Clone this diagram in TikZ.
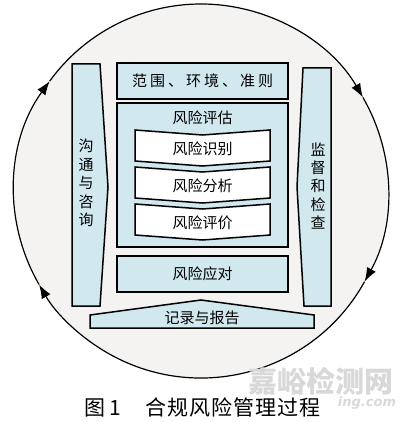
\documentclass[tikz,border=0pt]{standalone}
\usepackage{fontspec}
\setmainfont{Noto Sans CJK SC}
\newfontfamily\urlfont{DejaVu Sans}
\usetikzlibrary{arrows.meta}
\definecolor{boxblue}{RGB}{208,232,238}
\definecolor{ringgray}{RGB}{244,243,242}
\definecolor{markgray}{RGB}{216,216,216}

\begin{document}
\begin{tikzpicture}[x=1pt, y=-1pt,
    box/.style={draw, line width=1.5pt, fill=boxblue},
    chev/.style={draw, line width=1.5pt, fill=white},
    lbl/.style={inner sep=0pt, font=\fontsize{15}{15}\selectfont},
    vlbl/.style={inner sep=0pt, align=center, font=\fontsize{15}{18.4}\selectfont},
    ring/.style={line width=1.2pt, -{Latex[length=14pt, width=10pt]}}]
    \useasboundingbox (0, 0) rectangle (400, 422);
    \fill[white] (0, 0) rectangle (400, 422);

    \coordinate (c) at (201, 191);
    \fill[ringgray] (c) circle (187);
    \foreach \s/\e in {29/150, 150/216, 216/330, 330/389}
        \draw[ring] (c) ++(\s:187) arc (\s:\e:187);

    \node[box, lbl, minimum width=171, minimum height=36] (scope) at (202.5, 81) {\addfontfeatures{LetterSpace=20}范围、环境、准则};

    \draw[box] (117, 103) rectangle (288, 247);
    \node[lbl] (assess) at (202.5, 118) {风险评估};
    \foreach \y/\t/\n in {130/风险识别/ident, 167/风险分析/anal, 204/风险评价/eval} {
        \draw[chev] (135, \y) -- (202.5, \y+5) -- (270, \y) -- (270, \y+31) -- (202.5, \y+36) -- (135, \y+31) -- cycle;
        \node[lbl] (\n) at (202.5, \y+19) {\t};
    }

    \node[box, lbl, minimum width=171, minimum height=36] (resp) at (202.5, 274) {风险应对};

    \draw[box] (72, 64) -- (100, 64) -- (108, 187) -- (100, 306) -- (72, 306) -- cycle;
    \node[vlbl] (comm) at (86, 183) {沟\\通\\与\\咨\\询};
    \draw[box] (303, 68) -- (331, 68) -- (331, 306) -- (304, 306) -- (297, 187) -- cycle;
    \node[vlbl] (monitor) at (318, 186) {监\\督\\和\\检\\查};

    \draw[box] (90, 315) -- (201, 300) -- (314, 315) -- (314, 328) -- (90, 328) -- cycle;
    \node[lbl] (record) at (202, 318) {记录与报告};

    \node[inner sep=0pt, text=markgray, font=\fontsize{29}{29}\selectfont\bfseries] (mark) at (321, 381) {嘉峪检测网};
    \node[inner sep=0pt, text=markgray, font=\urlfont\bfseries\itshape\fontsize{13}{13}\selectfont] (url) at (367, 403) {ing.com};
    \node[inner sep=0pt, font=\fontsize{21}{21}\selectfont] (caption) at (202.5, 407) {\addfontfeatures{LetterSpace=5}图\hspace{4pt}1\hspace{24pt}合规风险管理过程};
\end{tikzpicture}
\end{document}
